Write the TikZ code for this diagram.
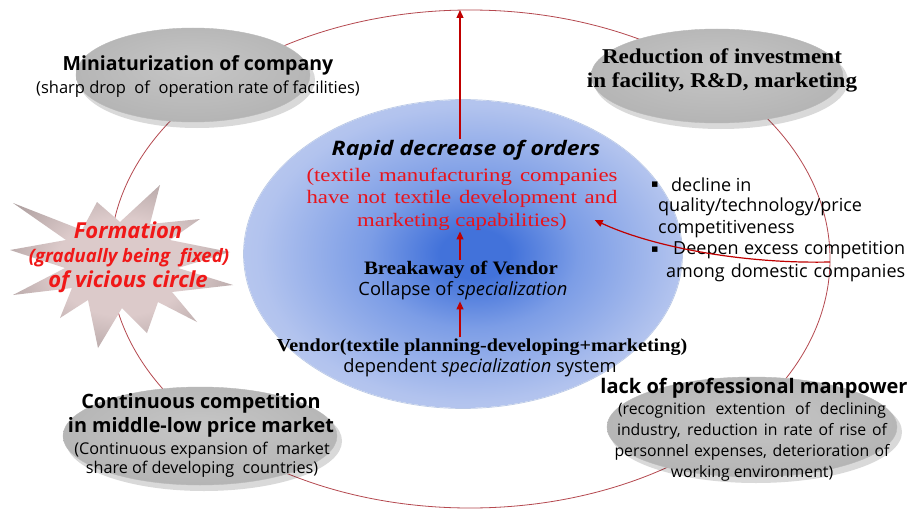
\documentclass[tikz,border=0pt]{standalone}
\usepackage{fontspec}
\setmainfont{Open Sans}
\newfontfamily\widesans[FakeStretch=1.15]{Open Sans}
\newfontfamily\srf[FakeStretch=1.1]{Liberation Serif}
\newfontfamily\srfr[FakeStretch=1.2]{Liberation Serif}
\newfontfamily\sym{DejaVu Sans}
\usetikzlibrary{arrows.meta}
\definecolor{ringred}{HTML}{B5484F}
\definecolor{arrred}{HTML}{C00000}
\definecolor{txtred}{HTML}{E8141C}
\definecolor{starred}{HTML}{F01818}
\definecolor{bA}{HTML}{4272DA}
\definecolor{bB}{HTML}{7C9DE6}
\definecolor{bC}{HTML}{B2C3EE}
\definecolor{bD}{HTML}{CBD5F2}
\definecolor{bE}{HTML}{DAE1F5}
\definecolor{bF}{HTML}{E6EBF8}
\definecolor{bluebd}{HTML}{B9C8E6}
\definecolor{gA}{HTML}{C6C6C6}
\definecolor{gB}{HTML}{B4B4B4}
\definecolor{gC}{HTML}{8E8E8E}
\definecolor{gD}{HTML}{E4E4E4}
\definecolor{sA}{HTML}{DCCACA}
\definecolor{sB}{HTML}{A99B9B}
\definecolor{sC}{HTML}{544848}
\pgfdeclareradialshading{bluesh}{\pgfpoint{1.5bp}{0bp}}{color(0bp)=(bA); color(4bp)=(bA); color(12bp)=(bB); color(24bp)=(bC); color(36bp)=(bD); color(46bp)=(bE); color(48.5bp)=(white); color(50bp)=(bF)}
\pgfdeclareradialshading{graysh}{\pgfpoint{0bp}{5bp}}{color(0bp)=(gA); color(28bp)=(gB); color(43bp)=(gC); color(48bp)=(gD); color(50bp)=(gD)}
\pgfdeclareradialshading{starsh}{\pgfpoint{0bp}{0bp}}{color(0bp)=(sA); color(15bp)=(sA); color(32bp)=(sB); color(50bp)=(sC)}
\tikzset{
  ring/.style={draw=ringred, line width=0.8pt},
  arr/.style={draw=arrred, line width=1.2pt, -{Triangle[length=8pt,width=7pt]}},
  grayell/.style={shading=graysh, draw=gray!55, line width=0.4pt},
  shadowell/.style={fill=black, opacity=0.15},
  ttl/.style={font=\fontsize{19.5}{22}\selectfont\bfseries, inner sep=1pt, align=center},
  subt/.style={font=\fontsize{16.5}{19}\selectfont, inner sep=1pt, align=center},
  srfttl/.style={font=\srf\fontsize{18.5}{20}\selectfont\bfseries, inner sep=1pt, align=center},
  sanstxt/.style={font=\fontsize{18.3}{20}\selectfont, inner sep=1pt, align=center},
  startxt/.style={text=starred, inner sep=1pt, align=center},
  bul/.style={font=\fontsize{18}{20}\selectfont, inner sep=1pt, anchor=west},
}
\begin{document}
\begin{tikzpicture}[x=1pt,y=-1pt]
\useasboundingbox (0,0) rectangle (908,511);
\fill[white] (0,0) rectangle (908,511);
% big ring
\draw[ring] (470,259) ellipse [x radius=360pt, y radius=249pt];
\coordinate (ringtop) at (460,10);
\coordinate (ringright) at (830,262);
\coordinate (axis) at (460,0);
% starburst
\path[shading=starsh] (160,185) -- (150,224) -- (200,219) -- (170,240) -- (230,252) -- (178,268) -- (233,285) -- (172,292) -- (197,322) -- (158,302) -- (147,333) -- (122,308) -- (98,348) -- (88,300) -- (60,318) -- (72,288) -- (13,295) -- (65,268) -- (10,250) -- (66,240) -- (13,203) -- (82,230) -- (97,202) -- (120,222) -- cycle;
% gray ellipses
\fill[shadowell] (197,80) ellipse [x radius=118pt, y radius=48pt];
\path[grayell] (193,75) ellipse [x radius=117pt, y radius=47pt];
\fill[shadowell] (721,81) ellipse [x radius=127pt, y radius=48pt];
\path[grayell] (717,76) ellipse [x radius=126pt, y radius=47pt];
\fill[shadowell] (204,441) ellipse [x radius=138pt, y radius=50pt];
\path[grayell] (200,436) ellipse [x radius=137pt, y radius=49pt];
\fill[shadowell] (756,432) ellipse [x radius=146pt, y radius=51pt];
\path[grayell] (752,427) ellipse [x radius=145pt, y radius=50pt];
% blue ellipse
\path[shading=bluesh] (463,254) ellipse [x radius=219pt, y radius=154pt];
\draw[bluebd, line width=0.7pt] (463,254) ellipse [x radius=219.5pt, y radius=154.5pt];
% texts gray ellipses
\node[ttl] (mini) at (198,65) {Miniaturization of company};
\node[subt] (minisub) at (198,89) {(sharp drop\ \ of\ \ operation rate of facilities)};
\node[font=\srf\fontsize{21}{24}\selectfont\bfseries, inner sep=1pt, align=center] (redu) at (722,70) {Reduction of investment\\in facility, R\&D, marketing};
\node[font=\fontsize{19.8}{24}\selectfont\bfseries, inner sep=1pt, align=center] (comp) at (201,415) {Continuous competition\\in middle-low price market};
\node[font=\fontsize{16.2}{19}\selectfont, inner sep=1pt, align=center] (compsub) at (202,460) {(Continuous expansion of\ \ market\\share of developing\ \ countries)};
\node[ttl, font=\fontsize{20}{22}\selectfont\bfseries] (lack) at (754,388) {lack of professional manpower};
\node[font=\fontsize{15.8}{21}\selectfont, inner sep=1pt, align=center] (lacksub) at (752,442) {\makebox[268pt][s]{(recognition extention of declining}\\\makebox[270pt][s]{industry, reduction in rate of rise of}\\\makebox[275pt][s]{personnel expenses, deterioration of}\\working environment)};
% star text
\node[startxt, font=\fontsize{22}{24}\selectfont\bfseries\itshape] (form) at (128,230) {Formation};
\node[startxt, font=\fontsize{18.5}{20}\selectfont\bfseries\itshape] (grad) at (129,258) {(gradually being\ \ fixed)};
\node[startxt, font=\fontsize{22}{24}\selectfont\bfseries\itshape] (vic) at (128,282) {of vicious circle};
% center texts
\node[font=\widesans\fontsize{20}{22}\selectfont\bfseries\itshape, inner sep=1pt] (rapid) at (466,150) {Rapid decrease of orders};
\node[font=\srfr\fontsize{19}{22.5}\selectfont, text=txtred, inner sep=1pt, align=center] (redtxt) at (462,199) {\makebox[311pt][s]{(textile manufacturing companies}\\\makebox[311pt][s]{have not textile development and}\\marketing capabilities)};
\node[srfttl, font=\srf\fontsize{19}{20}\selectfont\bfseries] (brk) at (461,270) {Breakaway of Vendor};
\node[sanstxt] (coll) at (463,291) {Collapse of \textit{specialization}};
\node[srfttl, font=\srf\fontsize{18.3}{20}\selectfont\bfseries] (vend) at (482,347) {Vendor(textile planning-developing+marketing)};
\node[sanstxt] (dep) at (480,368) {dependent \textit{specialization} system};
% bullets
\node[bul] (b1) at (650,185) {\sym\fontsize{11}{12}\selectfont\symbol{"25AA}};
\node[bul] (b1t) at (670,185) {decline in};
\node[bul] (b1u) at (657,207) {quality/technology/price};
\node[bul] (b1v) at (657,229) {competitiveness};
\node[bul] (b2) at (650,250) {\sym\fontsize{11}{12}\selectfont\symbol{"25AA}};
\node[bul] (b2t) at (672,250) {\makebox[232pt][s]{Deepen excess competition}};
\node[bul] (b2u) at (665,273) {\makebox[239pt][s]{among domestic companies}};
% arrows
\draw[arr] (rapid.north -| axis) -- (ringtop);
\draw[arr] (brk.north -| axis) -- (redtxt.south -| axis);
\draw[arr] (vend.north -| axis) -- (coll.south -| axis);
\draw[arr] (ringright) .. controls (740,264) and (650,246) .. ([xshift=-24pt,yshift=-21pt]redtxt.east);
\end{tikzpicture}
\end{document}
